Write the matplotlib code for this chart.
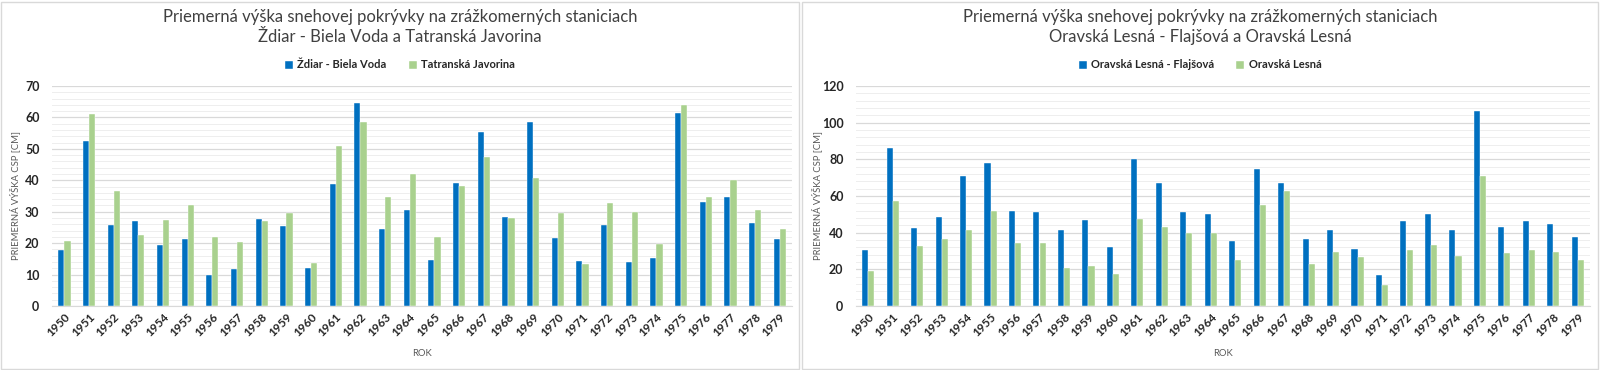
import matplotlib
matplotlib.use("Agg")
import matplotlib.pyplot as plt
from matplotlib.patches import Rectangle
from matplotlib.ticker import MultipleLocator
import numpy as np

plt.rcParams['font.family'] = ['Lato', 'DejaVu Sans']

years = [str(y) for y in range(1950, 1980)]

zdiar = [17.8, 52.5, 25.7, 27.1, 19.4, 21.3, 9.8, 11.8, 27.6, 25.6,
         12.2, 38.7, 64.6, 24.4, 30.4, 14.7, 39.0, 55.4, 28.2, 58.7,
         21.5, 14.2, 25.7, 14.0, 15.3, 61.4, 33.0, 34.6, 26.3, 21.2]
javorina = [20.7, 61.0, 36.5, 22.7, 27.3, 32.1, 22.0, 20.5, 27.1, 29.6,
            13.7, 51.0, 58.5, 34.6, 41.9, 21.8, 38.2, 47.3, 28.0, 40.6,
            29.6, 13.5, 32.9, 29.9, 19.8, 63.9, 34.7, 40.1, 30.4, 24.5]

flajsova = [30.7, 86.0, 42.4, 48.5, 70.9, 77.8, 52.0, 51.5, 41.3, 46.9,
            32.4, 80.0, 66.9, 51.3, 50.4, 35.6, 74.5, 66.9, 36.4, 41.5,
            30.9, 16.9, 46.2, 50.4, 41.3, 106.5, 43.3, 46.4, 44.5, 37.5]
lesna = [19.3, 57.3, 32.5, 36.4, 41.6, 52.0, 34.5, 34.4, 20.7, 21.8,
         17.5, 47.5, 43.1, 39.8, 39.8, 25.1, 55.3, 62.9, 23.1, 29.6,
         26.5, 11.3, 30.5, 33.5, 27.5, 70.7, 28.7, 30.5, 29.6, 24.9]

titles = ["Priemerná výška snehovej pokrývky na zrážkomerných staniciach\nŽdiar - Biela Voda a Tatranská Javorina",
          "Priemerná výška snehovej pokrývky na zrážkomerných staniciach\nOravská Lesná - Flajšová a Oravská Lesná"]
series_names = [("Ždiar - Biela Voda", "Tatranská Javorina"),
                ("Oravská Lesná - Flajšová", "Oravská Lesná")]
ylabel = "PRIEMERNÁ VÝŠKA CSP [CM]"
xlabel = "ROK"

BLUE = "#0070C0"
GREEN = "#A9D18E"
W, H = 1600, 370

fig = plt.figure(figsize=(16, 3.7), dpi=100)

# panel borders
for x0, x1 in [(1, 799), (802, 1598)]:
    fig.patches.append(Rectangle((x0 / W, 1 / H), (x1 - x0) / W, 367 / H,
                                 transform=fig.transFigure, fill=False,
                                 edgecolor="#D9D9D9", linewidth=1.0))

configs = [
    dict(rect=[52 / W, 64 / H, 740 / W, 220 / H], data=(zdiar, javorina),
         ymax=70, major=10, minor=2, cx=400, ylx=15),
    dict(rect=[856 / W, 64 / H, 734 / W, 220 / H], data=(flajsova, lesna),
         ymax=120, major=20, minor=4, cx=1200, ylx=817),
]

x = np.arange(len(years))
bw = 0.25
for i, c in enumerate(configs):
    ax = fig.add_axes(c['rect'])
    a, b = c['data']
    ax.bar(x - bw / 2, a, bw, color=BLUE, label=series_names[i][0], zorder=3,
           edgecolor="white", linewidth=0.3)
    ax.bar(x + bw / 2, b, bw, color=GREEN, label=series_names[i][1], zorder=3,
           edgecolor="white", linewidth=0.3)
    ax.set_xlim(-0.5, len(years) - 0.5)
    ax.set_ylim(0, c['ymax'])
    ax.yaxis.set_major_locator(MultipleLocator(c['major']))
    ax.yaxis.set_minor_locator(MultipleLocator(c['minor']))
    ax.grid(which='major', axis='y', color="#D9D9D9", linewidth=0.9, zorder=0)
    ax.grid(which='minor', axis='y', color="#EEEEEE", linewidth=0.7, zorder=0)
    ax.set_axisbelow(True)
    for s in ['top', 'right', 'left']:
        ax.spines[s].set_visible(False)
    ax.spines['bottom'].set_color("#D9D9D9")
    ax.set_xticks(x)
    ax.set_xticklabels(years, rotation=45, ha='right', rotation_mode='anchor',
                       fontsize=8.5, fontweight='bold', color="#262626")
    ax.tick_params(axis='x', length=0, pad=4)
    ax.tick_params(axis='y', which='both', length=0, pad=9,
                   labelsize=9, labelcolor="#262626")
    for t in ax.get_yticklabels():
        t.set_fontweight('bold')
    fig.text(c['ylx'] / W, (370 - 196) / H, ylabel, rotation=90, ha='center',
             va='center', fontsize=6.8, color="#595959")
    axc = (c['rect'][0] + c['rect'][2] / 2)
    fig.text(axc, (370 - 353) / H, xlabel, ha='center', va='center',
             fontsize=6.8, color="#595959")
    fig.text(c['cx'] / W, (370 - 27) / H, titles[i], ha='center', va='center',
             fontsize=12, color="#404040", linespacing=1.25)
    leg = fig.legend(handles=ax.containers, labels=list(series_names[i]),
                     loc='center', bbox_to_anchor=(c['cx'] / W, (370 - 65) / H),
                     ncol=2, frameon=False, handlelength=0.7,
                     handleheight=0.7, columnspacing=2.0, handletextpad=0.4,
                     prop=dict(weight='bold', size=8))
    for t in leg.get_texts():
        t.set_color("#262626")

fig.savefig("out.png", dpi=100)
